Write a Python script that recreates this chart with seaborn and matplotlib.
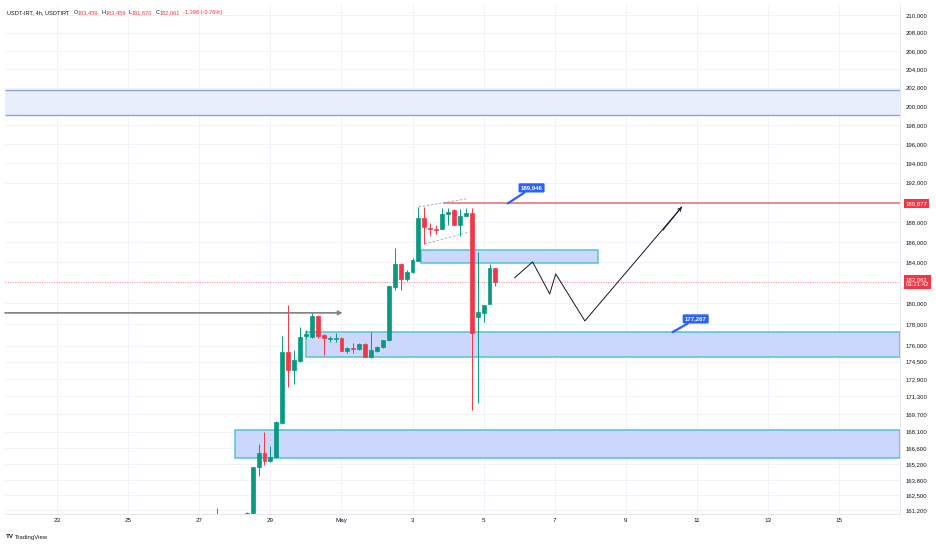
import numpy as np
import pandas as pd
import matplotlib
matplotlib.use("Agg")
import matplotlib.pyplot as plt
import matplotlib.transforms as mtrans
from matplotlib.patches import Rectangle
from matplotlib.ticker import FixedLocator, NullLocator
import seaborn as sns

# 4h candles of USDT-IRT (time, open, high, low, close)
candle_time = ["2025-04-27 12:00", "2025-04-28 08:00"] + list(
    pd.date_range("2025-04-28 12:00", periods=42, freq="4h").strftime("%Y-%m-%d %H:%M"))
opens = [160200, 160700, 160950, 164955, 166192, 165484, 165837, 168878, 175405, 173727,
         174565, 176910, 176816, 178812, 177006, 176627, 176627, 176721, 175499, 175781,
         175687, 176156, 174937, 175499, 175875, 176532, 181602, 183844, 182378, 183062,
         184140, 188418, 187415, 187314, 187314, 188820, 189224, 187715, 188618, 188922,
         178716, 179098, 179961, 183459]
highs = [161380, 161050, 164960, 166994, 168067, 166815, 169050, 176910, 179865, 175593,
         177765, 177480, 179098, 178900, 177050, 176910, 177194, 176780, 175875, 176250,
         176200, 176200, 177290, 175970, 176532, 181698, 185422, 183900, 183260, 184430,
         189527, 189527, 187916, 187715, 189425, 189425, 189300, 189325, 189425, 189425,
         185026, 179865, 183844, 183459]
lows = [159800, 160500, 160700, 164163, 165131, 165400, 165750, 168800, 172157, 172432,
        174470, 176720, 176720, 176721, 175124, 176350, 176350, 175450, 175310, 175310,
        175600, 174900, 174850, 175400, 175780, 176440, 181310, 181310, 182180, 182960,
        184140, 185820, 186614, 186814, 187300, 187715, 187715, 186614, 188600, 170054,
        170691, 178250, 179961, 181670]
closes = [160600, 160950, 164955, 166192, 165484, 165837, 168968, 175405, 173727, 174657,
          176816, 177100, 178812, 176910, 176721, 176721, 176721, 175499, 175781, 175687,
          176156, 174937, 175593, 175875, 176532, 181698, 183844, 182378, 183062, 184238,
          188418, 187515, 187314, 187215, 188820, 189022, 187715, 188618, 188922, 177194,
          179193, 179865, 183459, 182061]

# drawings: zones (start day, low, high), lines
zone_start = [-1.47, 10.225, 6.99, 4.99]
zone_end = [23.72, 15.21, 23.72, 23.72]
zone_low = [199080, 183940, 174940, 165750]
zone_high = [201750, 185220, 177267, 168250]
zz_day = [12.87, 13.38, 13.86, 14.03, 14.85, 17.58]
zz_price = [182480, 184040, 180920, 182860, 178330, 189530]

price_ticks = [210000, 208000, 206000, 204000, 202000, 200000, 198000, 196000, 194000,
               192000, 188000, 186000, 184000, 180000, 178000, 176000, 174500, 172900,
               171300, 169700, 168100, 166600, 165200, 163800, 162500, 161200]
day_ticks = [0, 2, 4, 6, 8, 10, 12, 14, 16, 18, 20, 22]
day_labels = ["23", "25", "27", "29", "May", "3", "5", "7", "9", "11", "13", "15"]

last_price = 182061
resist = 189877

GREEN = "#089981"
RED = "#f23645"

sns.set_style("white")
plt.rcParams["font.family"] = ["Liberation Sans", "DejaVu Sans"]

df = pd.DataFrame({"time": pd.to_datetime(candle_time, format="%Y-%m-%d %H:%M"),
                   "open": opens, "high": highs, "low": lows, "close": closes})
df["day"] = (df["time"] - pd.Timestamp("2025-04-23")) / pd.Timedelta("1D")
df["up"] = df["close"] >= df["open"]

fig = plt.figure(figsize=(9.36, 5.46), dpi=100)
ax = fig.add_axes([5 / 936, 32 / 546, 895 / 936, 509 / 546])
ax.set_yscale("log")
ax.set_ylim(160860, 211100)
ax.set_xlim(-1.47, 23.72)

# zones
for i in range(len(zone_low)):
    if i == 0:
        ax.add_patch(Rectangle((zone_start[i], zone_low[i]), zone_end[i] - zone_start[i],
                               zone_high[i] - zone_low[i], fc="#e9eefd", ec="none", zorder=1))
        ax.hlines([zone_low[i], zone_high[i]], zone_start[i], zone_end[i], color="#8ea1d6",
                  lw=1.0, zorder=2)
    else:
        ax.add_patch(Rectangle((zone_start[i], zone_low[i]), zone_end[i] - zone_start[i],
                               zone_high[i] - zone_low[i], fc="#cbd7fc", ec="#55c1da",
                               lw=1.1, zorder=1))

# candles
colors = np.where(df["up"], GREEN, RED)
ax.vlines(df["day"], df["low"], df["high"], color=colors, lw=0.7, zorder=3)
body_low = np.minimum(df["open"], df["close"])
body_h = np.abs(df["close"] - df["open"])
ax.bar(df["day"], body_h, bottom=body_low, width=0.11, color=colors, edgecolor=colors,
       lw=0.5, zorder=4)

# levels
ax.hlines(resist, 10.845, 23.72, color="#ee7e85", lw=1.3, zorder=2)
ax.axhline(last_price, color=RED, lw=0.5, ls=(0, (1.5, 2)), alpha=0.8, zorder=2)

# gray arrow from left
ax.annotate("", xy=(8.03, 179098), xytext=(-1.47, 179098),
            arrowprops=dict(arrowstyle="->", color="#808080", lw=1.2, shrinkA=0, shrinkB=0,
                            mutation_scale=6), zorder=5)

# flag wedge
ax.plot([10.17, 11.52], [189527, 190340], ls=(0, (3, 2)), color="#a0a3ab", lw=0.6, zorder=5)
ax.plot([10.34, 11.61], [185820, 187014], ls=(0, (3, 2)), color="#a0a3ab", lw=0.6, zorder=5)

# projected path
sns.lineplot(x=zz_day, y=zz_price, sort=False, estimator=None, color="#131722", lw=0.7,
             ax=ax, zorder=6)
ax.annotate("", xy=(zz_day[-1], zz_price[-1]), xytext=(zz_day[-2] + 2.2, 187200),
            arrowprops=dict(arrowstyle="->", color="#131722", lw=0.7, shrinkA=0, shrinkB=0,
                            mutation_scale=6), zorder=6)

# callouts
for txt, pt, box in [("189,946", (12.68, 189877), (13.35, 191460)),
                     ("177,267", (17.32, 177267), (17.97, 178520))]:
    ax.annotate(txt, xy=pt, xytext=box, ha="center", va="center", fontsize=4.3,
                color="white", weight="bold",
                bbox=dict(boxstyle="round,pad=0.35,rounding_size=0.2", fc="#2962ff", ec="none"),
                arrowprops=dict(arrowstyle="-", color="#2962ff", lw=1.6, shrinkA=0, shrinkB=0),
                zorder=7)

# axes styling
ax.yaxis.tick_right()
ax.yaxis.set_major_locator(FixedLocator(price_ticks))
ax.yaxis.set_minor_locator(NullLocator())
ax.set_yticklabels([f"{v:,}" for v in price_ticks])
ax.set_xticks(day_ticks)
ax.set_xticklabels(day_labels)
ax.tick_params(axis="y", length=0, pad=3.8, labelsize=4.3, labelcolor="#131722")
ax.tick_params(axis="x", length=0, pad=3.0, labelsize=4.5, labelcolor="#131722")
ax.grid(True, color="#f0f3fa", lw=0.7, zorder=0)
ax.set_axisbelow(True)
for s in ["top", "left"]:
    ax.spines[s].set_visible(False)
for s in ["bottom", "right"]:
    ax.spines[s].set_color("#e0e3eb")
    ax.spines[s].set_linewidth(0.6)
ax.set_xlabel("")
ax.set_ylabel("")

# price scale labels
trans = mtrans.blended_transform_factory(ax.transAxes, ax.transData)
ax.text(1.006, resist, f"{resist:,}", transform=trans, ha="left", va="center", fontsize=4.3,
        color="white", bbox=dict(boxstyle="square,pad=0.3", fc=RED, ec="none"), clip_on=False)
ax.text(1.006, last_price, f"{last_price:,}\n03:21:42", transform=trans, ha="left",
        va="center", fontsize=4.3, color="white", linespacing=1.1,
        bbox=dict(boxstyle="square,pad=0.3", fc=RED, ec="none"), clip_on=False)

# header, laid out piece by piece
header = [("USDT-IRT, 4h, USDTIRT", "#131722", 4), ("O", "#131722", 0), ("183,459", RED, 3),
          ("H", "#131722", 0), ("183,459", RED, 3), ("L", "#131722", 0),
          ("181,670", RED, 3), ("C", "#131722", 0), ("182,061", RED, 3),
          ("-1,398 (-0.76%)", RED, 0)]
renderer = fig.canvas.get_renderer()
xp = 7
for txt, col, gap in header:
    t = fig.text(xp / 936, 1 - 12.5 / 546, txt, fontsize=4.1, color=col, va="center", ha="left")
    xp = t.get_window_extent(renderer).x1 + gap

fig.text(6 / 936, 1 - 537 / 546, "TV", fontsize=4.5, weight="bold", color="#131722", va="center")
fig.text(15 / 936, 1 - 537 / 546, "TradingView", fontsize=4.3, color="#131722", va="center")

fig.savefig("out.png", dpi=100)
